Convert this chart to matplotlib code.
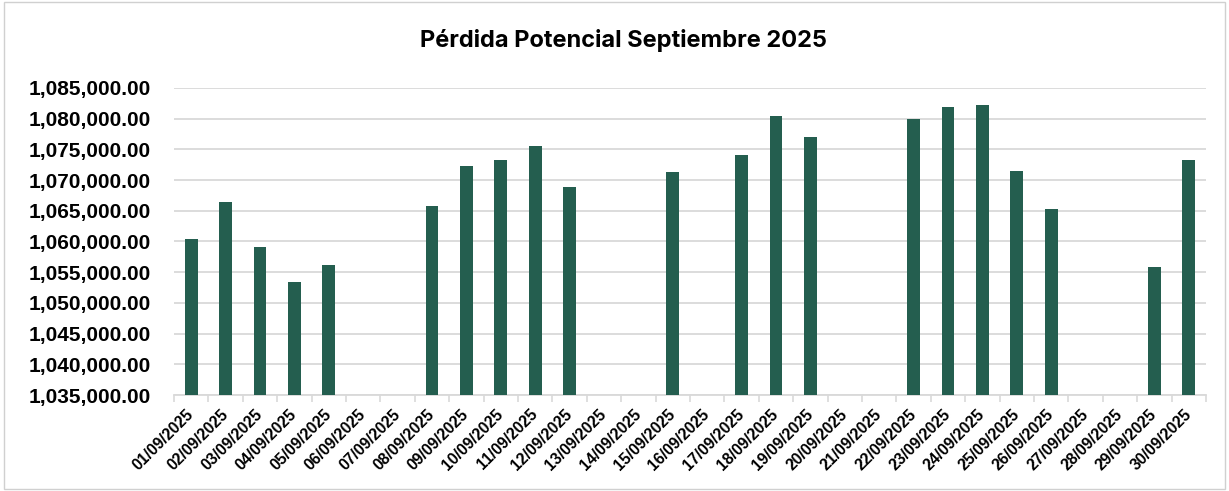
import matplotlib
matplotlib.use("Agg")
import matplotlib.pyplot as plt
import numpy as np
from matplotlib.patches import Rectangle
from matplotlib.ticker import FuncFormatter, FixedLocator

# dates of september 2025 and the potential loss (NaN = no data that day)
dates = ["%02d/09/2025" % d for d in range(1, 31)]
values = [1060450, 1066360, 1059130, 1053420, 1056140, np.nan, np.nan,
          1065820, 1072280, 1073200, 1075490, 1068860, np.nan, np.nan,
          1071250, np.nan, 1074080, 1080490, 1077070, np.nan, np.nan,
          1079950, 1081850, 1082230, 1071520, 1065270, np.nan, np.nan,
          1055820, 1073260]
y_ticks = list(range(1035000, 1085001, 5000))

bar_color = "#245E4F"
grid_color = "#D9D9D9"

plt.rcParams['font.family'] = ['Liberation Sans', 'DejaVu Sans']

fig = plt.figure(figsize=(12.29, 4.91), dpi=100)
fig.patches.append(Rectangle((0.003, 0.004), 0.994, 0.992, transform=fig.transFigure,
                             fill=False, edgecolor="#D0D0D0", linewidth=1.0))

ax = fig.add_axes([0.1416, 0.1955, 0.8397, 0.6253])
x = np.arange(len(dates))
ax.bar(x, values, width=0.37, color=bar_color, bottom=0, zorder=3)

ax.set_ylim(1035000, 1085000)
ax.set_xlim(-0.5, len(dates) - 0.5)
ax.set_yticks(y_ticks)
ax.yaxis.set_major_formatter(FuncFormatter(lambda v, p: "{:,.2f}".format(v)))
ax.grid(axis="y", color=grid_color, linewidth=1.3, zorder=0)

ax.set_xticks(x)
ax.set_xticklabels(dates, rotation=45, ha="right", va="center",
                   rotation_mode="anchor", fontsize=11.3, fontweight="bold")
ax.tick_params(axis="x", which="major", length=0, pad=12)
ax.xaxis.set_minor_locator(FixedLocator(np.arange(-0.5, len(dates), 1.0)))
ax.tick_params(axis="x", which="minor", length=5, color=grid_color, width=1.2)
ax.tick_params(axis="y", length=0, pad=17, labelsize=15)
for lbl in ax.get_yticklabels():
    lbl.set_fontweight("bold")

for s in ["top", "right", "left"]:
    ax.spines[s].set_visible(False)
ax.spines["bottom"].set_color(grid_color)
ax.spines["bottom"].set_linewidth(1.3)

fig.text(0.507, 0.917, "Pérdida Potencial Septiembre 2025", ha="center", va="center",
         fontsize=17, fontweight="bold", family=["Inter", "DejaVu Sans"])

fig.savefig("out.png", dpi=100)
